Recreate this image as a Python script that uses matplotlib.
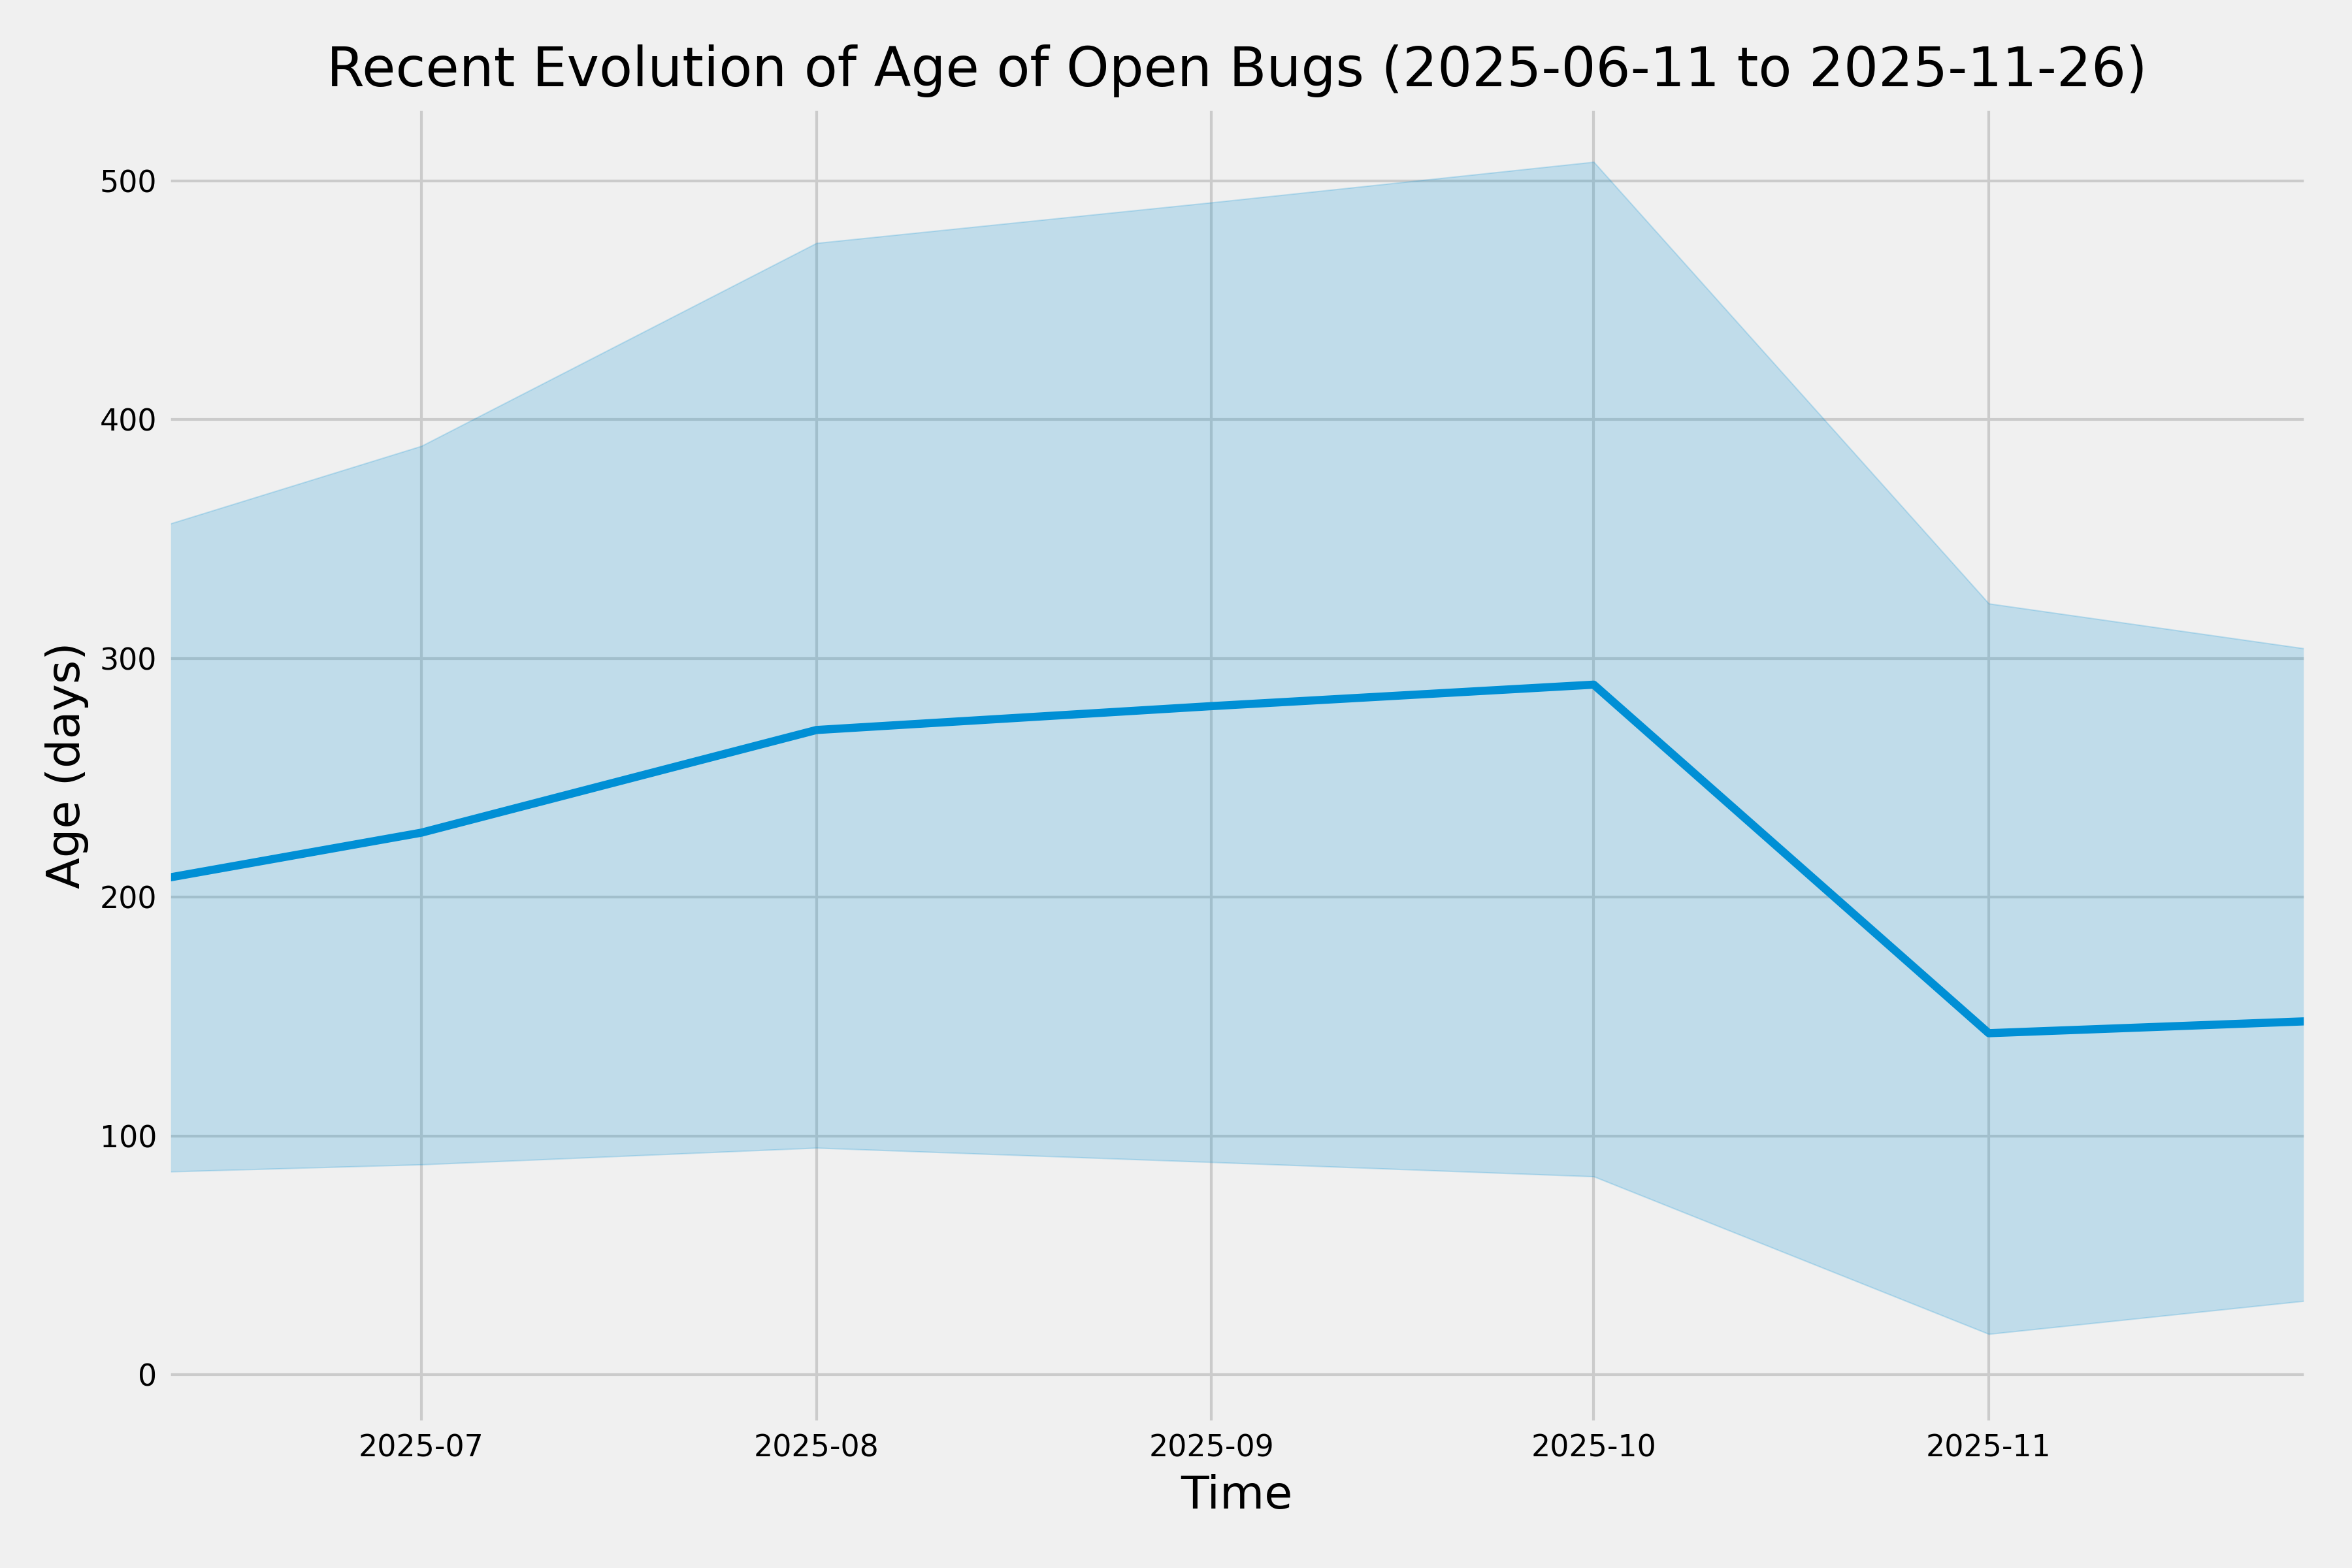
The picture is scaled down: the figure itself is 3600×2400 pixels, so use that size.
import pandas as pd
import matplotlib
matplotlib.use("Agg")
import matplotlib.pyplot as plt

plt.style.use("fivethirtyeight")

# monthly snapshot of open-bug age (days)
dates = pd.to_datetime(["2025-06-11", "2025-07-01", "2025-08-01", "2025-09-01",
                        "2025-10-01", "2025-11-01", "2025-11-26"])
mean_age = [208, 227, 270, 280, 289, 143, 148]
upper_age = [356, 389, 474, 491, 508, 323, 304]
lower_age = [85, 88, 95, 89, 83, 17, 31]

fig, ax = plt.subplots(figsize=(12, 8))
ax.plot(dates, mean_age, color="#008fd5", linewidth=3)
ax.fill_between(dates, lower_age, upper_age, color="#008fd5", alpha=0.2)

ax.set_xlim(dates[0], dates[-1])
ax.set_ylim(-20.8, 531.2)
ax.set_title("Recent Evolution of Age of Open Bugs (2025-06-11 to 2025-11-26)",
             fontsize=20, pad=7.5)
ax.set_xlabel("Time")
ax.set_ylabel("Age (days)")
ax.tick_params(labelsize=11)

fig.subplots_adjust(left=0.0708, right=0.981, bottom=0.0917, top=0.9321)
fig.savefig("out.png", dpi=300)
